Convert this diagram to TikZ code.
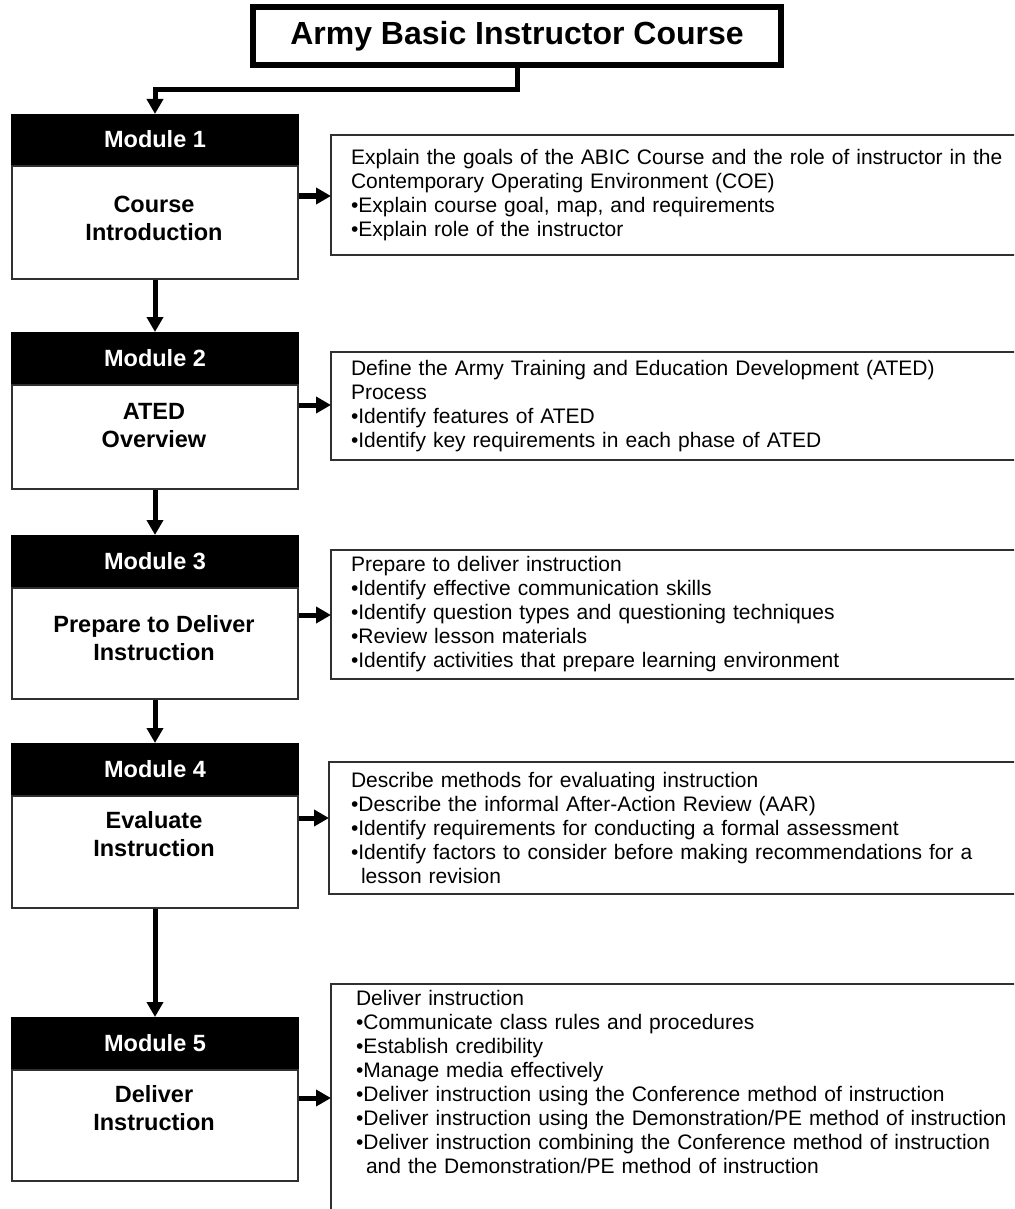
\documentclass[tikz,border=0pt]{standalone}
\usepackage{fontspec}
\setmainfont{Liberation Sans}
\usetikzlibrary{arrows.meta}
\definecolor{boxgray}{HTML}{303030}
\begin{document}
\begin{tikzpicture}[x=1pt,y=-1pt,
  conn/.style={line width=5pt,-{Triangle[length=15pt,width=16pt]}},
  titlebox/.style={draw=black,line width=6pt,fill=white,minimum width=528pt,minimum height=58pt,inner sep=0pt,
    font=\bfseries\fontsize{32}{36}\selectfont},
  modhead/.style={draw=black,line width=2pt,fill=black,text=white,minimum width=286pt,inner sep=0pt,
    font=\bfseries\fontsize{23.5}{27}\selectfont},
  modbody/.style={draw=boxgray,line width=2pt,fill=white,minimum width=286pt,inner sep=0pt},
  bodytext/.style={align=center,inner sep=0pt,font=\bfseries\fontsize{23.5}{28}\selectfont},
  descbox/.style={draw=boxgray,line width=1.5pt,anchor=north west,align=left,text width=680pt,
    inner xsep=20pt,inner ysep=4pt,outer sep=0pt,font=\fontsize{21}{24}\selectfont},
  desctext/.style={anchor=north west,align=left,text width=680pt,
    inner xsep=21pt,inner ysep=6pt,outer sep=0pt,font=\fontsize{21}{24}\selectfont},
  descline/.style={draw=boxgray,line width=1.5pt}
]
\useasboundingbox (0,0) rectangle (1014,1209);
\clip (0,0) rectangle (1014,1209);
\fill[white] (0,0) rectangle (1014,1209);

% title
\node[titlebox] (title) at (517,36) {Army Basic Instructor Course};

% modules
\node[modhead,anchor=north west,minimum height=49pt] (h1) at (11,114) {Module 1};
\node[modbody,anchor=north,minimum height=113pt] (b1) at (h1.south) {};
\node[bodytext] (t1) at (154,218.5) {Course\\Introduction};

\node[modhead,anchor=north west,minimum height=50pt] (h2) at (11,332) {Module 2};
\node[modbody,anchor=north,minimum height=104pt] (b2) at (h2.south) {};
\node[bodytext] (t2) at (154,425.5) {ATED\\Overview};

\node[modhead,anchor=north west,minimum height=50pt] (h3) at (11,535) {Module 3};
\node[modbody,anchor=north,minimum height=111pt] (b3) at (h3.south) {};
\node[bodytext] (t3) at (154,638) {Prepare to Deliver\\Instruction};

\node[modhead,anchor=north west,minimum height=50pt] (h4) at (11,743) {Module 4};
\node[modbody,anchor=north,minimum height=112pt] (b4) at (h4.south) {};
\node[bodytext] (t4) at (154,834) {Evaluate\\Instruction};

\node[modhead,anchor=north west,minimum height=50pt] (h5) at (11,1017) {Module 5};
\node[modbody,anchor=north,minimum height=111pt] (b5) at (h5.south) {};
\node[bodytext] (t5) at (154,1108) {Deliver\\Instruction};

% descriptions
\node[descbox,minimum height=120pt] (d1) at (331,135) {Explain the goals of the ABIC Course and the role of instructor in the\\
Contemporary Operating Environment (COE)\\
•Explain course goal, map, and requirements\\
•Explain role of the instructor};

\node[descbox,minimum height=108pt] (d2) at (331,352) {Define the Army Training and Education Development (ATED)\\
Process\\
•Identify features of ATED\\
•Identify key requirements in each phase of ATED};

\node[descbox,minimum height=129pt] (d3) at (331,550) {Prepare to deliver instruction\\
•Identify effective communication skills\\
•Identify question types and questioning techniques\\
•Review lesson materials\\
•Identify activities that prepare learning environment};

\node[descbox,minimum height=132pt] (d4) at (329,762) {\hspace*{2pt}Describe methods for evaluating instruction\\
\hspace*{2pt}•Describe the informal After-Action Review (AAR)\\
\hspace*{2pt}•Identify requirements for conducting a formal assessment\\
\hspace*{2pt}•Identify factors to consider before making recommendations for a\\
\hspace*{12pt}lesson revision};

\node[desctext] (d5) at (331,984) {\hspace*{4pt}Deliver instruction\\
\hspace*{4pt}•Communicate class rules and procedures\\
\hspace*{4pt}•Establish credibility\\
\hspace*{4pt}•Manage media effectively\\
\hspace*{4pt}•Deliver instruction using the Conference method of instruction\\
\hspace*{4pt}•Deliver instruction using the Demonstration/PE method of instruction\\
\hspace*{4pt}•Deliver instruction combining the Conference method of instruction\\
\hspace*{14pt}and the Demonstration/PE method of instruction};
\draw[descline] (d5.north west |- 0,1240) -- (d5.north west) -- (d5.north east);

% connectors
\coordinate (tb) at (title.south);
\draw[conn] (tb) -- (tb |- 0,90) -| (h1.north);
\draw[conn] (b1.south) -- (h2.north);
\draw[conn] (b2.south) -- (h3.north);
\draw[conn] (b3.south) -- (h4.north);
\draw[conn] (b4.south) -- (h5.north);

\draw[conn] (b1.east |- 0,196) -- (d1.west |- 0,196);
\draw[conn] (b2.east |- 0,405) -- (d2.west |- 0,405);
\draw[conn] (b3.east |- 0,615) -- (d3.west |- 0,615);
\draw[conn] (b4.east |- 0,818) -- (d4.west |- 0,818);
\draw[conn] (b5.east |- 0,1098) -- (d5.west |- 0,1098);
\end{tikzpicture}
\end{document}
